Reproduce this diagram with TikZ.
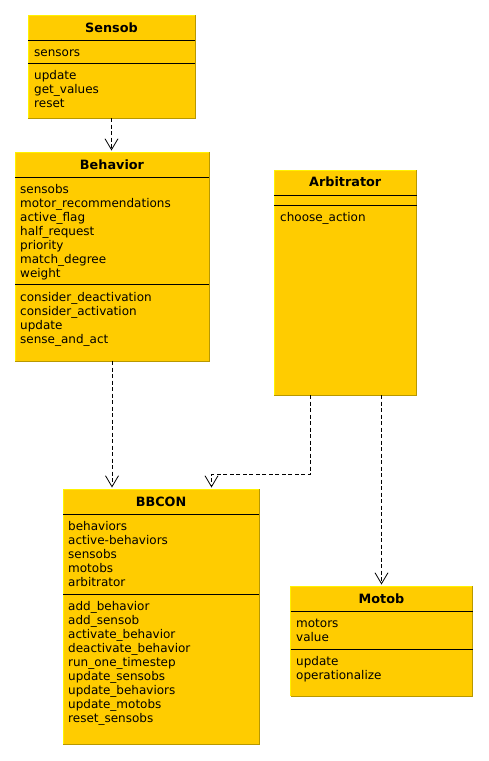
\documentclass[tikz,border=0pt]{standalone}
\usepackage{fontspec}
\setmainfont{DejaVu Sans}
\usetikzlibrary{arrows.meta}
\definecolor{boxfill}{HTML}{FFCC00}
\definecolor{boxhi}{HTML}{FFF200}
\definecolor{boxlo}{HTML}{B89800}
\tikzset{
  cls/.style={fill=boxfill, draw=none, inner sep=0pt, outer sep=0pt, anchor=north west},
  hi/.style={draw=boxhi, line width=0.8pt},
  lo/.style={draw=boxlo, line width=0.8pt},
  sepline/.style={draw=black, line width=0.8pt},
  ttl/.style={font=\bfseries\fontsize{12.8}{15}\selectfont, anchor=base, inner sep=0pt},
  mem/.style={font=\fontsize{12}{14}\selectfont, anchor=base west, inner sep=0pt},
  dep/.style={draw=black, line width=0.7pt, dash pattern=on 4pt off 2.5pt, -{Straight Barb[length=11pt,width=13pt,line width=0.8pt]}}
}
\newcommand\umlbox[5]{% name, x1, y1, x2, y2
  \pgfmathsetmacro\bw{#4-#2}\pgfmathsetmacro\bh{#5-#3}
  \node[cls, minimum width=\bw pt, minimum height=\bh pt] (#1) at (#2,#3) {};
  \draw[hi] (#1.south west) -- (#1.north west) -- (#1.north east);
  \draw[lo] (#1.north east) -- (#1.south east) -- (#1.south west);
}
\newcommand\members[4]{% prefix, x, first baseline, list
  \foreach \t [count=\i] in {#4} {\node[mem] (#1-\i) at (#2,{#3+0.7+14*(\i-1)}) {\t};}
}
\begin{document}
\begin{tikzpicture}[x=1pt,y=-1pt]
\useasboundingbox (0,0) rectangle (489,761);

% Sensob
\umlbox{sensob}{28}{15}{195}{118}
\node[ttl] (sensob-t) at (111.5,32.5) {Sensob};
\draw[sepline] (28,40.5) -- (195,40.5);
\members{sensob-a}{34}{56}{sensors}
\draw[sepline] (28,63.5) -- (195,63.5);
\members{sensob-m}{34}{79}{update,get\_values,reset}

% Behavior
\umlbox{behavior}{15}{152}{209}{361}
\node[ttl] (behavior-t) at (112,169.3) {Behavior};
\draw[sepline] (15,177) -- (209,177);
\members{behavior-a}{20}{192.5}{sensobs,motor\_recommendations,active\_flag,half\_request,priority,match\_degree,weight}
\draw[sepline] (15,284.5) -- (209,284.5);
\members{behavior-m}{20}{300.5}{consider\_deactivation,consider\_activation,update,sense\_and\_act}

% Arbitrator
\umlbox{arbitrator}{274}{170}{416.5}{395}
\node[ttl] (arbitrator-t) at (345.25,186.7) {Arbitrator};
\draw[sepline] (274,195) -- (416.5,195);
\draw[sepline] (274,205) -- (416.5,205);
\members{arbitrator-m}{280}{221}{choose\_action}

% BBCON
\umlbox{bbcon}{63}{489}{259}{744}
\node[ttl] (bbcon-t) at (161,506) {BBCON};
\draw[sepline] (63,514) -- (259,514);
\members{bbcon-a}{68}{529.5}{behaviors,active-behaviors,sensobs,motobs,arbitrator}
\draw[sepline] (63,594.5) -- (259,594.5);
\members{bbcon-m}{68}{610}{add\_behavior,add\_sensob,activate\_behavior,deactivate\_behavior,run\_one\_timestep,update\_sensobs,update\_behaviors,update\_motobs,reset\_sensobs}

% Motob
\umlbox{motob}{290.5}{586}{472.5}{696}
\node[ttl] (motob-t) at (381.5,603.3) {Motob};
\draw[sepline] (290.5,611.7) -- (472.5,611.7);
\members{motob-a}{296}{627}{motors,value}
\draw[sepline] (290.5,649.3) -- (472.5,649.3);
\members{motob-m}{296}{665}{update,operationalize}

% connectors
\draw[dep] (sensob.south) -- ([yshift=1.5pt]sensob.south |- behavior.north);
\draw[dep] (behavior.south) -- ([yshift=1.5pt]behavior.south |- bbcon.north);
\coordinate (bend) at (211.5,474.3);
\draw[dep] ([xshift=-35pt]arbitrator.south) |- (bend) -- ([yshift=1.5pt]bend |- bbcon.north);
\draw[dep] (arbitrator.south -| motob.north) -- ([yshift=1.5pt]motob.north);
\end{tikzpicture}
\end{document}
